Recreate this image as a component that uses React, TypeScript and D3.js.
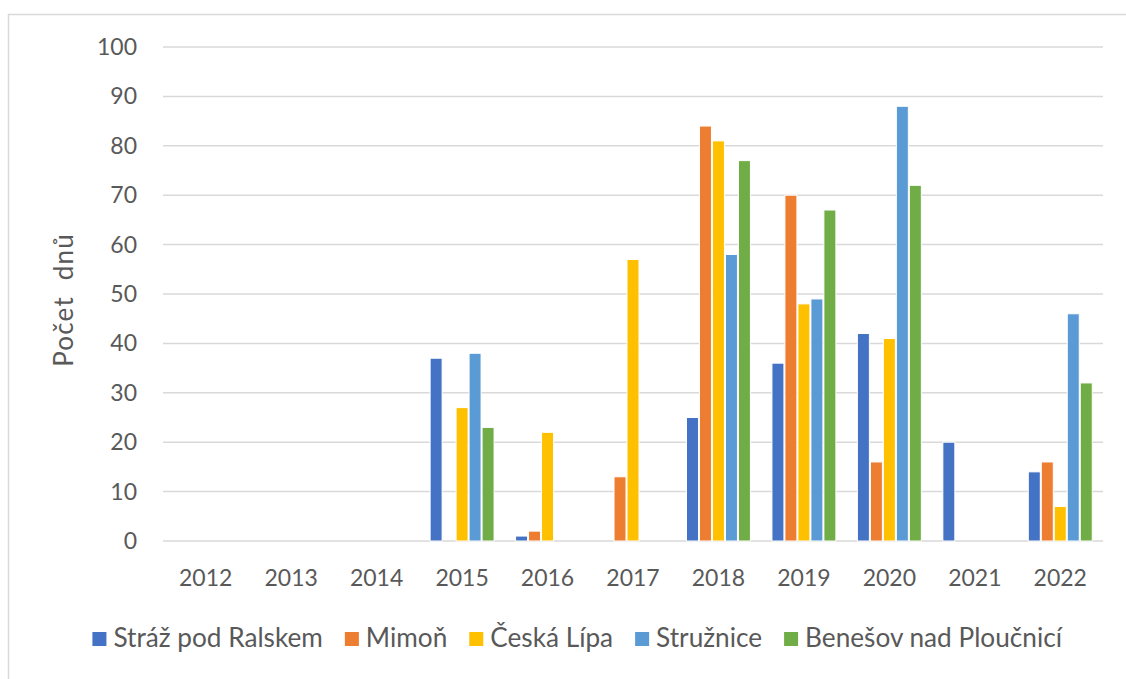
import React from "react";
import * as d3 from "d3";

const years = ["2012","2013","2014","2015","2016","2017","2018","2019","2020","2021","2022"];
const seriesNames = ["Stráž pod Ralskem","Mimoň","Česká Lípa","Stružnice","Benešov nad Ploučnicí"];
const colors = ["#4472C4","#ED7D31","#FFC000","#5B9BD5","#70AD47"];
const strazPodRalskem = [null,null,null,37,1,null,25,36,42,20,14];
const mimon = [null,null,null,null,2,13,84,70,16,null,16];
const ceskaLipa = [null,null,null,27,22,57,81,48,41,null,7];
const struznice = [null,null,null,38,null,null,58,49,88,null,46];
const benesov = [null,null,null,23,null,null,77,67,72,null,32];
const seriesValues = [strazPodRalskem, mimon, ceskaLipa, struznice, benesov];
const yTicks = [0,10,20,30,40,50,60,70,80,90,100];

const W = 1126, H = 679;
const left = 163, right = 1103, top = 47, bottom = 541;
const FONT = "Lato, 'Open Sans', sans-serif";

export default function App() {
  const x0 = d3.scaleBand<string>().domain(years).range([left, right]).padding(0);
  const bw = x0.bandwidth();
  const groupW = bw * 0.76;
  const x1 = d3.scaleBand<string>().domain(seriesNames).range([(bw - groupW) / 2, (bw + groupW) / 2]).padding(0);
  const y = d3.scaleLinear().domain([0, 100]).range([bottom, top]);

  // legend layout
  const legendFont = 26.2;
  const sq = 14;
  const gapAfterSq = 7;
  const itemGap = 22;
  const measure = (t: string) => {
    if (typeof document === "undefined") return t.length * 13;
    const c = document.createElement("canvas").getContext("2d")!;
    c.font = `${legendFont}px Lato`;
    return c.measureText(t).width;
  };
  const widths = seriesNames.map(measure);
  const total = widths.reduce((a, w) => a + sq + gapAfterSq + w, 0) + itemGap * (seriesNames.length - 1);
  let cx = 577.5 - total / 2;
  const legendItems = seriesNames.map((n, i) => {
    const item = { n, i, x: cx };
    cx += sq + gapAfterSq + widths[i] + itemGap;
    return item;
  });

  return (
    <svg width={W} height={H} style={{ position: "absolute", left: 0, top: 0, background: "#fff" }} fontFamily={FONT}>
      <rect x={8.5} y={14.5} width={1200} height={800} fill="#fff" stroke="#d9d9d9" strokeWidth={1.5} />
      {yTicks.map(t => (
        <g key={t}>
          <line x1={left} x2={right} y1={y(t)} y2={y(t)} stroke="#d9d9d9" strokeWidth={1.5} />
          <text x={137} y={y(t)} dy="0.35em" textAnchor="end" fontSize={23} fill="#595959">{t}</text>
        </g>
      ))}
      {years.map(yr => (
        <text key={yr} x={(x0(yr) as number) + bw / 2} y={586} textAnchor="middle" fontSize={23} fill="#595959">{yr}</text>
      ))}
      {seriesValues.map((vals, si) => (
        <g key={si}>
          {vals.map((v, yi) => v == null ? null : (
            <rect key={yi}
              x={(x0(years[yi]) as number) + (x1(seriesNames[si]) as number) + 0.5}
              y={y(v)}
              width={x1.bandwidth() - 1}
              height={y(0) - y(v)}
              fill={colors[si]} stroke="#fff" strokeWidth={1} />
          ))}
        </g>
      ))}
      <text transform={`translate(73,300) rotate(-90)`} textAnchor="middle" fontSize={26} letterSpacing={1.2} fill="#595959" style={{ whiteSpace: "pre" }}>{"Počet  dnů"}</text>
      {legendItems.map(it => (
        <g key={it.n}>
          <rect x={it.x} y={632} width={sq} height={sq} fill={colors[it.i]} />
          <text x={it.x + sq + gapAfterSq} y={647} fontSize={legendFont} fill="#595959">{it.n}</text>
        </g>
      ))}
    </svg>
  );
}
